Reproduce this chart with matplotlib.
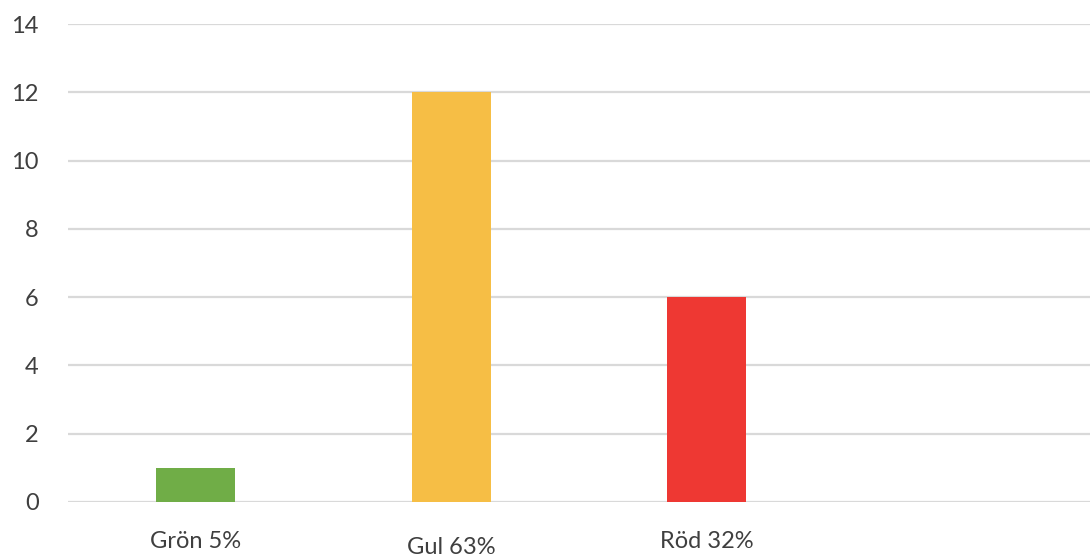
import matplotlib
matplotlib.use("Agg")
import matplotlib.pyplot as plt
from matplotlib.transforms import blended_transform_factory

categories = ["Grön 5%", "Gul 63%", "Röd 32%"]
values = [1, 12, 6]
colors = ["#70AD47", "#F6BE45", "#EE3833"]
yticks = [0, 2, 4, 6, 8, 10, 12, 14]

plt.rcParams["font.family"] = ["Lato", "DejaVu Sans"]

fig = plt.figure(figsize=(10.91, 5.58), dpi=100)
ax = fig.add_axes([68 / 1091, 1 - 502 / 558, 1022 / 1091, (502 - 24) / 558])

x = list(range(len(categories)))
ax.bar(x, values, width=0.31, color=colors, zorder=3)

ax.set_xlim(-0.5, 3.5)
ax.set_ylim(0, 14)
ax.set_yticks(yticks)
ax.set_yticklabels([str(t) for t in yticks], fontsize=17, color="#3F3F3F")
ax.tick_params(axis="y", length=0, pad=21)
ax.set_xticks([])
ax.yaxis.grid(True, color="#D9D9D9", linewidth=1.6, zorder=0)
for s in ax.spines.values():
    s.set_visible(False)

# category labels sit below the baseline, slightly staggered
trans = blended_transform_factory(ax.transData, fig.transFigure)
label_y = [1 - 542 / 558, 1 - 548 / 558, 1 - 541 / 558]
for xi, lab, ly in zip(x, categories, label_y):
    ax.text(xi, ly, lab, transform=trans, ha="center", va="center",
            fontsize=17, color="#3F3F3F")

fig.savefig("out.png", dpi=100, facecolor="white")
